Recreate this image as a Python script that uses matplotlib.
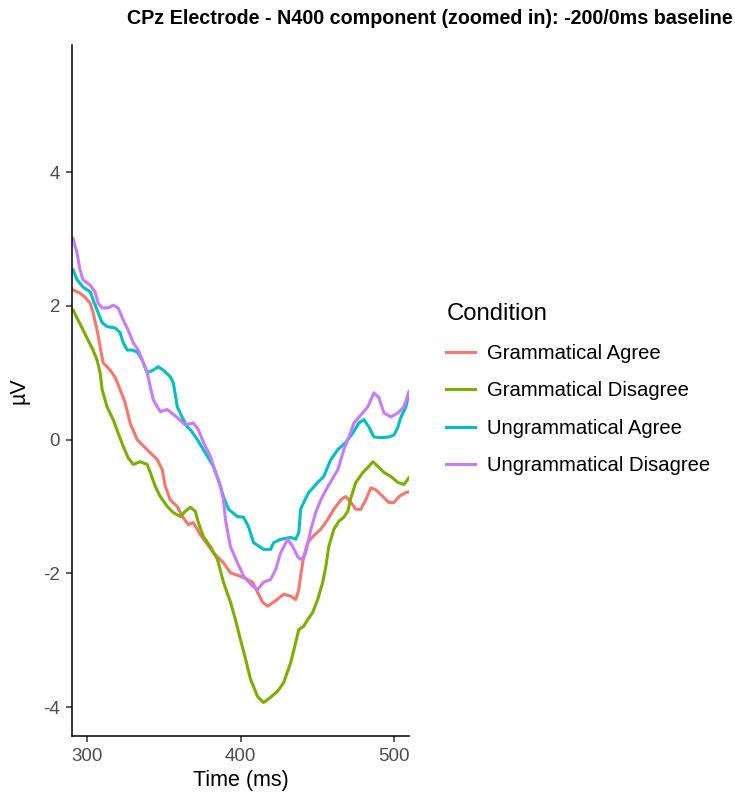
import numpy as np
import matplotlib.pyplot as plt
from matplotlib.lines import Line2D

plt.rcParams['font.family'] = ['Liberation Sans', 'DejaVu Sans']

# grand averages at CPz, one list per condition (time in ms, amplitude in uV)
ga_time = [290.4, 291.1, 295.6, 298.9, 302.2, 304.1, 306.7, 308.7, 310.6, 315.2, 318.5,
           321.7, 325.0, 328.2, 332.8, 339.3, 345.9, 349.1, 351.1, 354.3, 358.9, 362.2,
           366.1, 369.3, 373.9, 382.4, 388.9, 393.5, 402.0, 407.8, 411.1, 414.4, 417.6,
           421.5, 428.1, 432.7, 435.9, 437.9, 439.1, 441.1, 443.7, 447.0, 452.2, 456.8,
           460.7, 465.3, 468.5, 471.8, 475.0, 478.3, 481.5, 484.8, 488.1, 492.6, 496.5,
           499.8, 503.1, 507.6, 509.6]
ga_uv = [2.24, 2.24, 2.19, 2.13, 2.04, 1.90, 1.64, 1.39, 1.15, 1.04, 0.93,
         0.75, 0.55, 0.25, 0.00, -0.15, -0.30, -0.45, -0.70, -0.90, -1.00, -1.15,
         -1.27, -1.24, -1.42, -1.69, -1.84, -1.99, -2.06, -2.13, -2.28, -2.43, -2.49,
         -2.43, -2.31, -2.34, -2.39, -2.24, -2.04, -1.75, -1.54, -1.45, -1.34, -1.19,
         -1.04, -0.90, -0.85, -0.94, -1.04, -1.04, -0.90, -0.72, -0.75, -0.85, -0.94,
         -0.94, -0.85, -0.79, -0.78]

gd_time = [290.4, 291.1, 294.3, 297.6, 300.8, 304.1, 306.7, 308.7, 310.0, 313.2, 317.2,
           320.4, 323.7, 326.9, 330.2, 334.8, 339.3, 341.3, 344.6, 347.8, 352.4, 356.3,
           360.9, 364.1, 367.4, 370.6, 372.6, 375.9, 380.4, 385.0, 388.9, 393.5, 396.7,
           400.0, 403.3, 406.5, 411.1, 415.0, 419.6, 424.2, 428.1, 432.7, 435.9, 437.9,
           441.1, 443.7, 447.0, 450.2, 453.5, 455.5, 457.4, 460.7, 464.0, 467.2, 469.8,
           471.8, 475.0, 479.6, 483.5, 486.1, 489.4, 493.3, 497.8, 502.4, 506.3, 509.6]
gd_uv = [1.94, 1.94, 1.79, 1.64, 1.49, 1.34, 1.19, 1.00, 0.75, 0.49, 0.30,
         0.10, -0.10, -0.27, -0.37, -0.33, -0.37, -0.49, -0.70, -0.85, -1.00, -1.09,
         -1.15, -1.07, -1.01, -1.07, -1.24, -1.45, -1.60, -1.79, -2.13, -2.43, -2.69,
         -2.99, -3.28, -3.58, -3.84, -3.93, -3.85, -3.76, -3.63, -3.33, -3.03, -2.84,
         -2.79, -2.69, -2.58, -2.39, -2.13, -1.90, -1.60, -1.34, -1.22, -1.16, -1.07,
         -0.87, -0.64, -0.49, -0.40, -0.33, -0.40, -0.49, -0.55, -0.64, -0.67, -0.57]

ua_time = [290.4, 291.1, 293.7, 297.6, 302.2, 304.1, 307.4, 310.0, 313.2, 318.5, 321.7,
           323.7, 326.3, 329.6, 332.8, 336.1, 339.3, 343.2, 346.5, 349.8, 354.3, 356.3,
           358.9, 362.8, 365.4, 367.4, 372.0, 378.5, 382.4, 385.6, 388.9, 392.2, 398.0,
           402.0, 405.2, 408.5, 415.0, 419.6, 421.5, 426.1, 432.7, 435.9, 437.9, 439.1,
           441.1, 444.4, 450.2, 454.2, 458.7, 463.3, 468.5, 473.1, 477.0, 480.2, 483.5,
           486.8, 491.3, 496.5, 499.8, 502.4, 504.4, 507.6, 509.6]
ua_uv = [2.54, 2.54, 2.39, 2.28, 2.21, 2.09, 1.90, 1.75, 1.69, 1.67, 1.60,
         1.45, 1.34, 1.34, 1.31, 1.19, 1.00, 1.04, 1.09, 1.04, 0.94, 0.85,
         0.49, 0.30, 0.19, 0.15, 0.00, -0.25, -0.40, -0.60, -0.85, -1.04, -1.15,
         -1.16, -1.30, -1.54, -1.64, -1.64, -1.54, -1.49, -1.46, -1.49, -1.39, -1.04,
         -0.94, -0.79, -0.64, -0.55, -0.30, -0.15, -0.04, 0.10, 0.25, 0.30, 0.19,
         0.04, 0.03, 0.04, 0.07, 0.19, 0.34, 0.49, 0.70]

ud_time = [290.4, 291.1, 293.7, 295.6, 297.6, 302.2, 305.4, 307.4, 310.0, 313.9, 317.2,
           320.4, 323.7, 326.9, 330.2, 333.5, 336.1, 339.3, 343.2, 345.9, 347.8, 352.4,
           358.9, 364.1, 369.3, 372.6, 375.9, 380.4, 383.7, 387.0, 388.9, 390.2, 392.2,
           393.5, 398.0, 402.0, 407.8, 411.1, 415.0, 419.6, 422.9, 426.1, 430.7, 434.0,
           437.2, 439.1, 441.1, 442.4, 445.7, 448.9, 452.2, 456.8, 463.3, 467.2, 470.5,
           473.8, 478.3, 482.8, 486.8, 490.0, 493.3, 497.8, 502.4, 506.3, 509.6]
ud_uv = [3.01, 3.01, 2.79, 2.54, 2.39, 2.31, 2.21, 2.04, 1.97, 1.97, 2.01,
         1.97, 1.79, 1.64, 1.45, 1.34, 1.19, 1.00, 0.60, 0.49, 0.42, 0.45,
         0.33, 0.22, 0.25, 0.15, -0.04, -0.25, -0.49, -0.70, -0.90, -1.19, -1.45,
         -1.60, -1.84, -2.04, -2.19, -2.24, -2.13, -2.09, -1.94, -1.69, -1.49, -1.60,
         -1.75, -1.79, -1.76, -1.69, -1.35, -1.09, -0.90, -0.70, -0.45, -0.15, 0.04,
         0.25, 0.37, 0.49, 0.70, 0.63, 0.40, 0.34, 0.40, 0.49, 0.72]

conditions = ['Grammatical Agree', 'Grammatical Disagree',
              'Ungrammatical Agree', 'Ungrammatical Disagree']
colours = ['#F8766D', '#7CAE00', '#00BFC4', '#C77CFF']
series = [(ga_time, ga_uv), (gd_time, gd_uv), (ua_time, ua_uv), (ud_time, ud_uv)]

x_ticks = [300, 400, 500]
y_ticks = [-4, -2, 0, 2, 4]

fig = plt.figure(figsize=(7.35, 8.0), dpi=100)
ax = fig.add_axes([72/735, 64/800, 337/735, 691/800])

for (t, v), col, name in zip(series, colours, conditions):
    ax.plot(t, v, color=col, lw=2.2, label=name)

ax.set_xlim(290.4, 509.6)
ax.set_ylim(-4.43, 5.9)
ax.set_xticks(x_ticks)
ax.set_yticks(y_ticks)
ax.set_xticklabels([str(x) for x in x_ticks])
ax.set_yticklabels([str(y) for y in y_ticks])

for s in ['top', 'right']:
    ax.spines[s].set_visible(False)
for s in ['left', 'bottom']:
    ax.spines[s].set_color('black')
    ax.spines[s].set_linewidth(1.1)
ax.tick_params(length=4.5, width=1.1, color='#333333', labelcolor='#4D4D4D',
               labelsize=13.5, pad=4)

ax.set_xlabel('Time (ms)', fontsize=15.5, labelpad=4)
ax.set_ylabel('µV', fontsize=15.5, labelpad=10)

fig.text(127/735, 1 - 19/800, 'CPz Electrode - N400 component (zoomed in): -200/0ms baseline',
         fontsize=14.2, fontweight='bold', ha='left', va='center')

handles = [Line2D([0], [0], color=c, lw=2.2) for c in colours]
leg = fig.legend(handles, conditions, title='Condition', loc='upper left',
                 bbox_to_anchor=(428/735, 1 - 285/800), frameon=False,
                 fontsize=14.6, title_fontsize=17.2, handlelength=1.4,
                 handletextpad=0.6, labelspacing=0.91, alignment='left')

fig.savefig('out.png', dpi=100)
